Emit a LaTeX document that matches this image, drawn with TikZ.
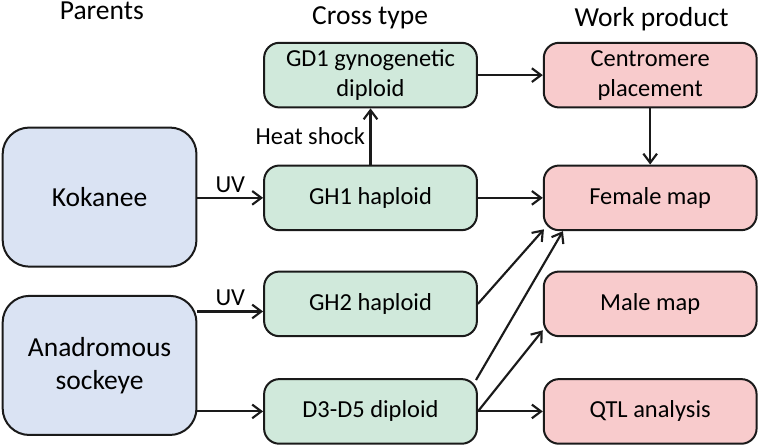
\documentclass[tikz,border=0pt]{standalone}
\usepackage{fontspec}
\setmainfont{Carlito}
\usepackage{xcolor}
\usepackage{tikz}
\usetikzlibrary{arrows.meta}
\definecolor{parentblue}{HTML}{DAE3F3}
\definecolor{crossgreen}{HTML}{D0E9DB}
\definecolor{workpink}{HTML}{F8CBCC}
\definecolor{edgegray}{HTML}{1A1A1A}

\begin{document}
\begin{tikzpicture}[
    box/.style={draw=edgegray, rectangle, rounded corners=0.4cm, line width=1.5pt, minimum width=5.6cm, minimum height=1.7cm, align=center, font=\fontsize{18.3}{22.4}\selectfont},
    parent/.style={box, fill=parentblue, rounded corners=0.7cm, minimum width=5.1cm, minimum height=3.66cm, font=\fontsize{20.6}{24.6}\selectfont},
    cross/.style={box, fill=crossgreen},
    work/.style={box, fill=workpink},
    heading/.style={anchor=base, font=\fontsize{20.6}{24}\selectfont},
    lbl/.style={font=\fontsize{18.3}{22}\selectfont},
    arrow/.style={-{Straight Barb[length=2.4mm, width=3.6mm]}, draw=edgegray, line width=1.6pt}
]
    \useasboundingbox (0, 0) rectangle (20, 11.737);

    % Column headings
    \node[heading] (hpar) at (2.68, 11.22) {Parents};
    \node[heading] (hcross) at (9.74, 11.1) {Cross type};
    \node[heading] (hwork) at (17.15, 11.05) {Work product};

    % Parents
    \node[parent] (kok) at (2.62, 6.55) {Kokanee};
    \node[parent] (anad) at (2.62, 2.12) {Anadromous\\sockeye};

    % Cross types
    \node[cross] (gd1) at (9.75, 9.76) {GD1 gynogenetic\\diploid};
    \node[cross] (gh1) at (9.75, 6.53) {GH1 haploid};
    \node[cross] (gh2) at (9.75, 3.74) {GH2 haploid};
    \node[cross] (d3) at (9.75, 0.91) {D3-D5 diploid};

    % Work products
    \node[work] (cent) at (17.11, 9.76) {Centromere\\placement};
    \node[work] (fem) at (17.11, 6.53) {Female map};
    \node[work] (male) at (17.11, 3.74) {Male map};
    \node[work] (qtl) at (17.11, 0.91) {QTL analysis};

    % Arrows
    \draw[arrow] (kok.east |- gh1.west) -- node[above, lbl] {UV} (gh1.west);
    \draw[arrow] ([yshift=-2mm]anad.east |- gh2.west) -- node[above, lbl] {UV} ([yshift=-2mm]gh2.west);
    \draw[arrow] (anad.east |- d3.west) -- (d3.west);
    \draw[arrow] (gh1.north) -- node[left, lbl] {Heat shock} (gd1.south);
    \draw[arrow] (gd1.east) -- (cent.west);
    \draw[arrow] (cent.south) -- (fem.north);
    \draw[arrow] (gh1.east) -- (fem.west);
    \draw[arrow] (gh2.east) -- ([shift={(0.03,0.05)}]fem.south west);
    \draw[arrow] ([shift={(-0.05,-0.05)}]d3.north east) -- ([xshift=0.53cm]fem.south west);
    \draw[arrow] (d3.east) -- ([yshift=0.18cm]male.south west);
    \draw[arrow] (d3.east) -- (qtl.west);

\end{tikzpicture}
\end{document}
